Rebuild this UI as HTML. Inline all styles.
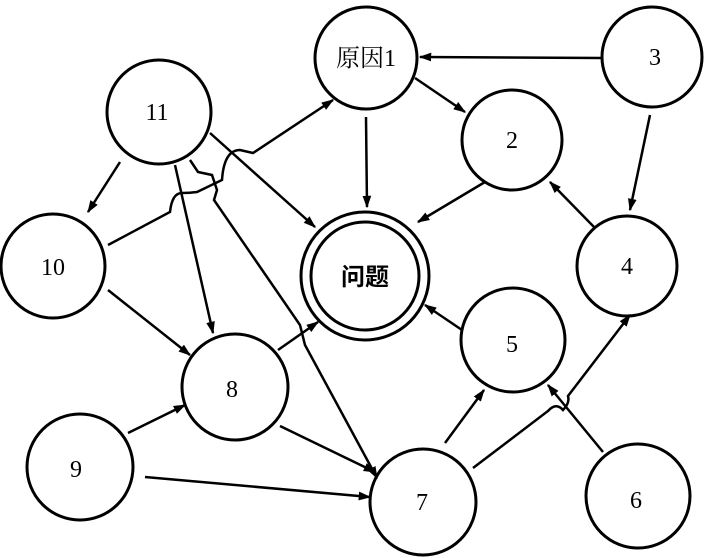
<!DOCTYPE html>
<html><head><style>body{margin:0;background:#fff}svg{display:block}</style></head><body>
<svg width="707" height="558" viewBox="0 0 707 558" xmlns="http://www.w3.org/2000/svg">
<defs><marker id="a" viewBox="0 0 10 10" refX="9" refY="5" markerWidth="5" markerHeight="5" orient="auto"><path d="M0,1.5 L10,5 L0,8.5 z" fill="#000"/></marker></defs>
<g fill="none" stroke="#000" stroke-width="3">
<circle cx="366" cy="58" r="51"/>
<circle cx="652" cy="57" r="50"/>
<circle cx="159" cy="112" r="52"/>
<circle cx="512" cy="140" r="50"/>
<circle cx="53" cy="266" r="52"/>
<circle cx="365" cy="276" r="64"/>
<circle cx="365" cy="276" r="54"/>
<circle cx="627" cy="266" r="50"/>
<circle cx="513" cy="340" r="52"/>
<circle cx="235" cy="387" r="53"/>
<circle cx="80" cy="467" r="53"/>
<circle cx="423" cy="502" r="53"/>
<circle cx="638" cy="496" r="52"/>
</g>
<g fill="none" stroke="#000" stroke-width="2.5" marker-end="url(#a)">
<line x1="602" y1="58" x2="420" y2="57"/>
<line x1="415" y1="78" x2="465" y2="112"/>
<line x1="366" y1="117" x2="367" y2="207"/>
<line x1="485" y1="182" x2="418" y2="222"/>
<line x1="650" y1="115" x2="630" y2="210"/>
<line x1="595" y1="228" x2="550" y2="182"/>
<line x1="462" y1="330" x2="425" y2="305"/>
<line x1="120" y1="162" x2="88" y2="212"/>
<line x1="210" y1="133" x2="315" y2="227"/>
<line x1="175" y1="165" x2="213" y2="333"/>
<path d="M190,160 L198,172 L212,175 L217,190 L214,200 L300,325 L305,345 L377,478"/>
<path d="M108,245 L170,212 Q172,193 182,193 Q190,193 197,192 L222,180 Q224,150 240,150 L253,153 L333,100"/>
<line x1="108" y1="290" x2="190" y2="355"/>
<line x1="128" y1="433" x2="185" y2="405"/>
<line x1="145" y1="477" x2="370" y2="497"/>
<line x1="280" y1="426" x2="375" y2="472"/>
<line x1="278" y1="350" x2="318" y2="322"/>
<line x1="445" y1="443" x2="484" y2="390"/>
<path d="M473,468 L548,411 Q556,402 563,410 Q570,403 568,396 L630,315"/>
<line x1="603" y1="452" x2="548" y2="385"/>
</g>
<g font-family="'Liberation Serif','Noto Serif CJK SC',serif" font-size="24" text-anchor="middle" fill="#000">
<text x="366" y="66">原因1</text>
<text x="655" y="65">3</text>
<text x="157" y="120">11</text>
<text x="512" y="148">2</text>
<text x="53" y="275">10</text>
<text x="365" y="285" font-family="'Noto Sans CJK SC',sans-serif" font-weight="bold">问题</text>
<text x="627" y="274">4</text>
<text x="512" y="352">5</text>
<text x="232" y="397">8</text>
<text x="76" y="477">9</text>
<text x="422" y="510">7</text>
<text x="636" y="508">6</text>
</g>
</svg>
</body></html>
